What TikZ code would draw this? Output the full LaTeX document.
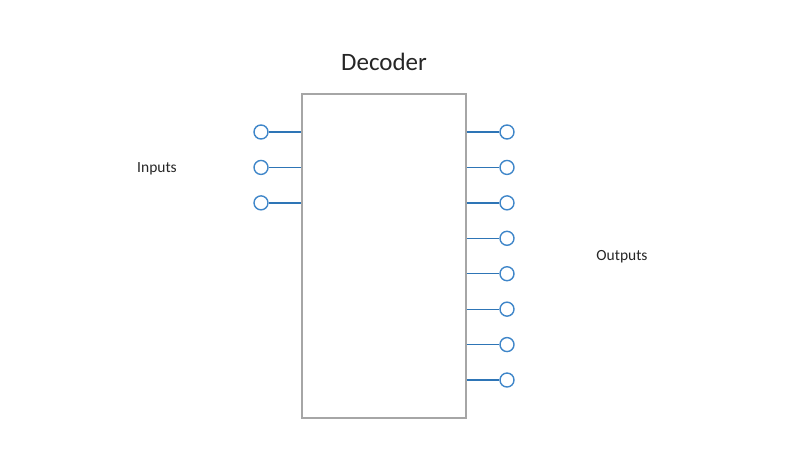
\documentclass[tikz,border=0pt]{standalone}
\usepackage{fontspec}
\setmainfont{Carlito}
\usetikzlibrary{positioning}
\definecolor{portblue}{HTML}{3F86C9}
\definecolor{wireblue}{HTML}{2E75B6}
\definecolor{boxgray}{HTML}{A6A6A6}
\definecolor{textgray}{HTML}{262626}

\begin{document}
\begin{tikzpicture}[x=1pt, y=-1pt,
    port/.style={circle, draw=portblue, line width=1.4pt, fill=white, minimum size=14pt, inner sep=0pt},
    wire/.style={wireblue, line width=1.3pt}]
    \useasboundingbox (0,0) rectangle (810,460);

    % Bloco
    \node[draw=boxgray, line width=1.3pt, minimum width=164pt, minimum height=324pt, inner sep=0pt] (dec) at (384,256) {};
    \node[text=textgray, font=\fontsize{25}{30}\selectfont] (title) at (384,62) {Decoder};

    % Entradas
    \foreach \i in {1,2,3} {
        \node[port] (in\i) at (261,{132+(\i-1)*35.43}) {};
        \draw[wire] (in\i) -- (in\i -| dec.west);
    }
    \node[text=textgray, font=\fontsize{15.5}{18}\selectfont] (inlabel) at (157,169) {Inputs};

    % Saidas
    \foreach \i in {1,...,8} {
        \node[port] (out\i) at (507,{132+(\i-1)*35.43}) {};
        \draw[wire] (out\i -| dec.east) -- (out\i);
    }
    \node[text=textgray, font=\fontsize{15.5}{18}\selectfont] (outlabel) at (622,257) {Outputs};
\end{tikzpicture}
\end{document}
